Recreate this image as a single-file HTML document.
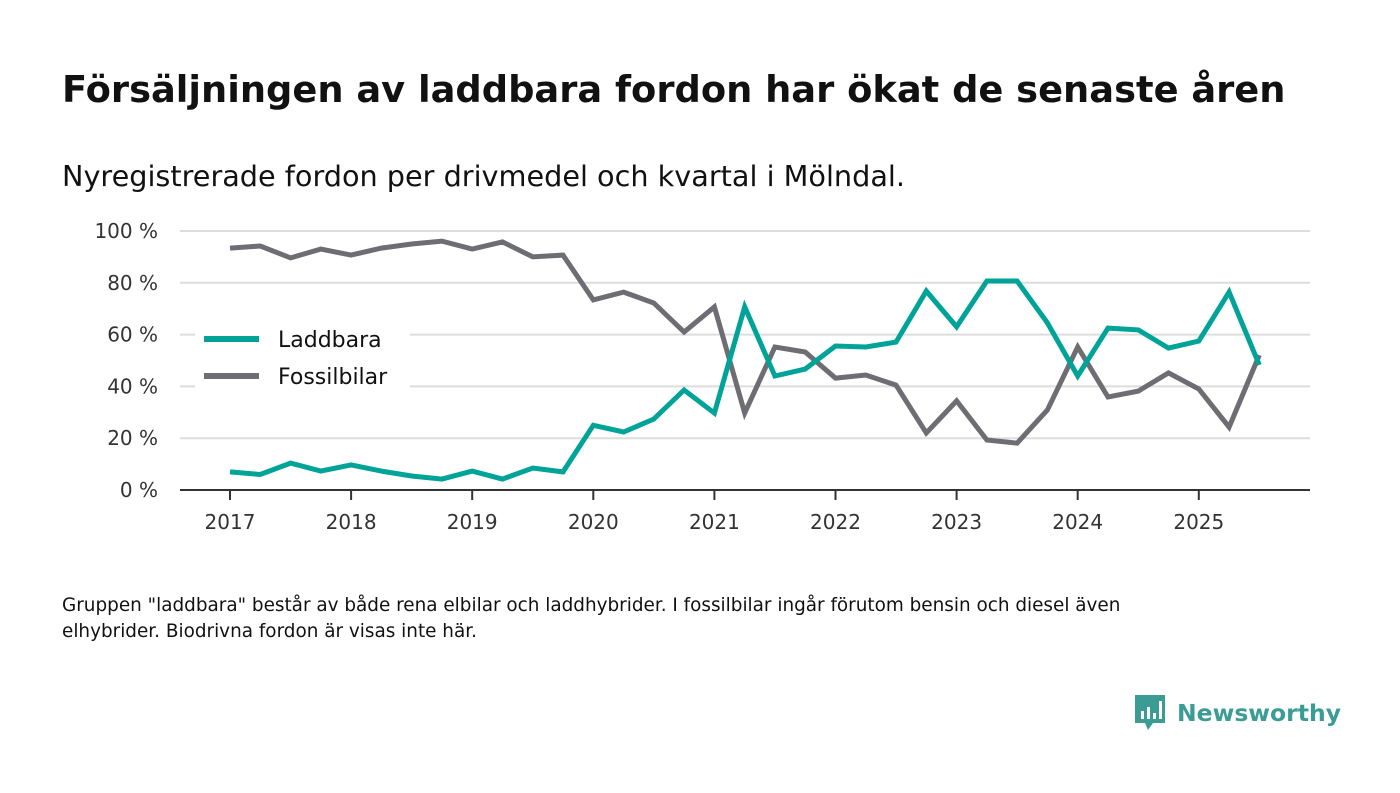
<!DOCTYPE html>
<html><head><meta charset="utf-8"><style>
body{margin:0;background:#fff;width:1400px;height:793px;overflow:hidden;font-family:"DejaVu Sans","Liberation Sans",sans-serif;color:#111;}
h1{position:absolute;left:62px;top:68px;margin:0;font-size:36.8px;font-weight:bold;color:#111;}
.sub{position:absolute;left:62px;top:159px;font-size:28.7px;color:#111}
.foot{position:absolute;left:62px;top:593px;font-size:18.4px;line-height:26px;width:1150px;color:#111}
.logo{position:absolute;left:1133px;top:693px;display:flex;align-items:center;gap:10px;font-size:23.5px;font-weight:bold;color:#3a9c95}
svg{position:absolute;left:0;top:0}
</style></head><body>
<h1>Försäljningen av laddbara fordon har ökat de senaste åren</h1>
<div class="sub">Nyregistrerade fordon per drivmedel och kvartal i Mölndal.</div>
<svg id="chart" width="1400" height="560"></svg>
<div class="foot">Gruppen "laddbara" består av både rena elbilar och laddhybrider. I fossilbilar ingår förutom bensin och diesel även elhybrider. Biodrivna fordon är visas inte här.</div>
<div class="logo"><svg width="34" height="40" viewBox="0 0 34 40" style="position:static"><path d="M2 2h30v28H20l-5 7-3-7H2z" fill="#3a9c95"/><rect x="8" y="18" width="3" height="8" fill="#fff"/><rect x="14" y="14" width="3" height="12" fill="#fff"/><rect x="20" y="20" width="3" height="6" fill="#fff"/><rect x="26" y="8" width="3" height="18" fill="#fff"/></svg><span>Newsworthy</span></div>
<script>
const years=[2017,2018,2019,2020,2021,2022,2023,2024,2025];
const yTicks=[0,20,40,60,80,100];
const laddbara=[7,6,10.4,7.3,9.7,7.3,5.4,4.2,7.3,4.2,8.5,7,25,22.4,27.4,38.6,29.7,70.7,44,46.7,55.6,55.2,57.1,76.8,63,80.7,80.7,64.5,44,62.5,61.8,54.8,57.5,76.4,48.3];
const fossil=[93.4,94.2,89.6,93,90.7,93.4,95,96.1,93,95.8,90,90.7,73.4,76.4,72.2,61,70.7,29.7,55.2,53.3,43.2,44.4,40.5,22,34.4,19.3,18.1,30.9,55.2,35.9,38.2,45.2,39,24.3,52.1];
const ns="http://www.w3.org/2000/svg",svg=document.getElementById('chart');
const X=t=>230+(t-2017)*121.1, Y=v=>490-v*2.59;
const FF='DejaVu Sans, Liberation Sans, sans-serif';
function mk(tag,attrs){const e=document.createElementNS(ns,tag);for(const k in attrs)e.setAttribute(k,attrs[k]);svg.appendChild(e);return e;}
yTicks.forEach(v=>{
 if(v>0){const g=mk('line',{x1:180,x2:1310,y1:Y(v),y2:Y(v),stroke:'#ddd','stroke-width':2});
 
 }
 const t=mk('text',{x:158,y:Y(v)+7,'text-anchor':'end','font-size':20,fill:'#333','font-family':FF});t.textContent=v+' %';
 
 
});
const ax=mk('line',{x1:180,x2:1310,y1:490,y2:490,stroke:'#333','stroke-width':2});


years.forEach(y=>{
 const tk=mk('line',{x1:X(y),x2:X(y),y1:490,y2:500,stroke:'#333','stroke-width':2});
 
 
 const t=mk('text',{x:X(y),y:529,'text-anchor':'middle','font-size':20,fill:'#333','font-family':FF});t.textContent=y;
 
 
});
function line(data,color,name){
 const d=data.map((v,i)=>(i?'L':'M')+X(2017+i/4).toFixed(1)+','+Y(v).toFixed(1)).join('');
 const p=mk('path',{d:d,fill:'none',stroke:color,'stroke-width':5,'stroke-linejoin':'miter'});
 
 
}
line(fossil,'#6e6d73','fossilbilar-line');
line(laddbara,'#00a398','laddbara-line');
const lb=mk('rect',{x:195,y:318,width:215,height:80,fill:'#fff'});


[['Laddbara','#00a398',339],['Fossilbilar','#6e6d73',376]].forEach(([n,c,y])=>{
 const l=mk('line',{x1:204,x2:259,y1:y,y2:y,stroke:c,'stroke-width':6});
 
 
 const t=mk('text',{x:278,y:y+8,'font-size':22,fill:'#111','font-family':FF});t.textContent=n;
 
 
});
</script>
</body></html>
